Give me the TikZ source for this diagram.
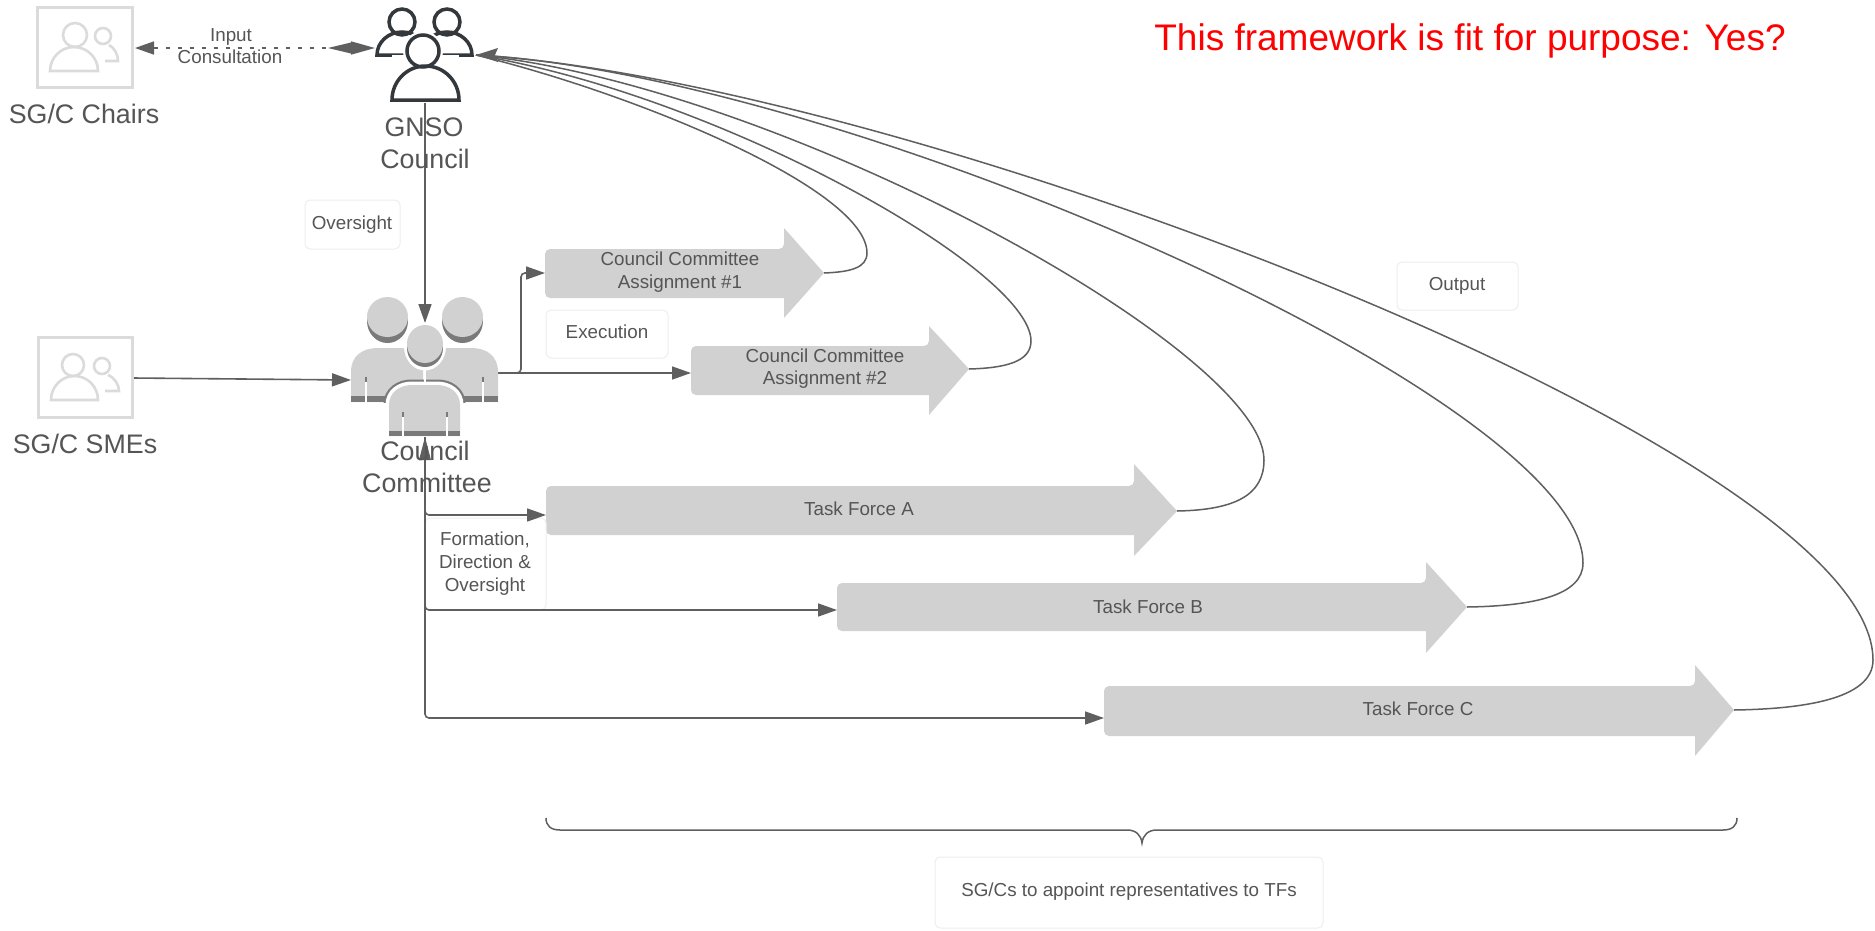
\documentclass[tikz,border=0pt]{standalone}
\usepackage{fontspec}
\setmainfont{Liberation Sans}
\usetikzlibrary{arrows.meta}
\definecolor{tx}{HTML}{555555}
\definecolor{ln}{HTML}{5F5F5F}
\definecolor{bar}{HTML}{D0D1D0}
\definecolor{rim}{HTML}{7A7A7A}
\definecolor{pale}{HTML}{DBDBDB}
\definecolor{dark}{HTML}{33383D}
\definecolor{edge}{HTML}{EEEEEE}
\newcommand{\fsz}[1]{\fontsize{#1}{#1}\selectfont}
% left, top, bottom, base, headtop, headbottom, tipx, tipy, name
\newcommand{\BigArr}[9]{%
  \fill[bar,rounded corners=5] (#1,#8) -- (#1,#2) -- (#4,#2) [sharp corners] -- (#4,#5) -- (#7,#8) -- (#4,#6) -- (#4,#3) [rounded corners=5] -- (#1,#3) -- cycle;
  \coordinate (#9) at (#7,#8);
  \coordinate (#9in) at (#1,#8);
}
% x1 x2 ybase ytop
\newcommand{\Shoulder}[4]{(#1,#3) arc[start angle=180,end angle=360,x radius={(#2-#1)/2},y radius={#3-#4}] -- cycle}
\tikzset{
  every node/.style={text=tx,align=center,inner sep=0pt,font=\fsz{18.8}},
  biglabel/.style={font=\fsz{26.8}},
  notebox/.style={draw=edge,fill=white,rounded corners=5,line width=1pt},
  conn/.style={draw=ln,line width=1.6pt,-{Triangle[length=19pt,width=13pt,fill=ln]},rounded corners=4},
  plainconn/.style={draw=ln,line width=1.6pt,rounded corners=4},
  ret/.style={draw=ln,line width=1.5pt},
  paleicon/.style={draw=pale,line width=2.6pt},
  darkicon/.style={draw=dark,line width=3.5pt,fill=white},
}
\begin{document}
\begin{tikzpicture}[x=1pt,y=-1pt]
\useasboundingbox (0,0) rectangle (1875,930);
\fill[white] (0,0) rectangle (1875,930);

% ---------- named anchors
\coordinate (chairsR) at (135,48);
\coordinate (gnsoL) at (375,48);
\coordinate (gnsoB) at (425,103);
\coordinate (gnsoR) at (476,55);
\coordinate (ccT) at (425,323);
\coordinate (ccB) at (425,437);
\coordinate (ccL) at (351,380);
\coordinate (ccR) at (498,373);
\coordinate (smeR) at (133,378);
\coordinate (ramp) at (521,373);

% ---------- big arrows
\BigArr{545}{249}{298}{784}{228}{318}{824}{273}{aone}
\BigArr{691}{346}{395}{929}{326}{415}{969}{369}{atwo}
\BigArr{546}{486}{535}{1134}{464}{556}{1177}{511}{tfa}
\BigArr{837}{583}{631}{1426}{562}{653}{1467}{607}{tfb}
\BigArr{1104}{686}{736}{1695}{665}{756}{1734}{710}{tfc}

% ---------- return curves to the Council
\draw[ret] (aone) .. controls (850,272) and (867,268) .. (867,253) .. controls (867,190) and (640,95) .. (gnsoR);
\draw[ret] (atwo) .. controls (1005,368) and (1031,362) .. (1031,341) .. controls (1031,270) and (720,95) .. (gnsoR);
\draw[ret] (tfa) .. controls (1235,510) and (1264,495) .. (1264,460) .. controls (1264,350) and (780,85) .. (gnsoR);
\draw[ret] (tfb) .. controls (1535,606) and (1583,595) .. (1583,563) .. controls (1583,400) and (850,75) .. (gnsoR);
\draw[ret] (tfc) .. controls (1800,709) and (1873,700) .. (1873,660) .. controls (1873,450) and (900,80) .. (gnsoR);
\fill[ln] (gnsoR) -- ++(22,-7) -- ++(-3,7) -- ++(3,7) -- cycle;

% ---------- faint box under the Formation text
\node[notebox,minimum width=121pt,minimum height=92pt] (formationBox) at (485.5,564) {};

% ---------- flows
\draw[ln,line width=1.6pt,dash pattern=on 4pt off 8pt,{Triangle[length=19pt,width=13pt]}-{Triangle[length=24pt,width=13pt]}] (chairsR) -- (gnsoL);
\fill[ln] (328,48) -- (353,42) -- (353,54) -- cycle;
\draw[conn] (gnsoB) -- (ccT);
\draw[conn] (smeR) -- (ccL);
\draw[conn] (ccR) -- (ramp) |- (aonein);
\draw[conn] (ccR) -- (atwoin |- ccR);
\draw[plainconn] (ccB) -- (ccB |- tfain);
\draw[conn] (ccB) |- (546,515);
\draw[conn] (ccB) |- (837,610);
\draw[conn] (ccB) |- (1104,718);
\fill[ln] (ccB) -- (419,460) -- (431,460) -- cycle;

% ---------- boxes for SG/C
\node[draw=pale,line width=3pt,minimum width=95pt,minimum height=80pt] (chairs) at (84.5,47.5) {};
\node[draw=pale,line width=3pt,minimum width=94pt,minimum height=80pt] (smes) at (85,377) {};
\begin{scope}[paleicon]
  \draw (75,35) circle[radius=12];
  \draw \Shoulder{50}{98}{71}{47};
  \draw (103,36) circle[radius=8];
  \draw (109,45) .. controls (115,48) and (118,55) .. (118,61) -- (105,61);
  \draw (73,365) circle[radius=11];
  \draw \Shoulder{51}{98}{400}{376};
  \draw (102,366) circle[radius=8];
  \draw (108,375) .. controls (115,378) and (119,385) .. (119,391) -- (105,391);
\end{scope}

% ---------- GNSO Council icon
\begin{scope}[darkicon]
  \draw (402,22) circle[radius=13];
  \draw (447,22) circle[radius=13];
  \draw \Shoulder{377}{427}{55}{32};
  \draw \Shoulder{422}{472}{55}{32};
  \path[fill=white,draw=none] (423,51) circle[radius=20];
  \fill[white,draw=none] (392,55) rectangle (459,100);
  \draw (423,51) circle[radius=16];
  \draw \Shoulder{392}{459}{100}{66};
\end{scope}
\draw[ln,line width=1.6pt] (gnsoB) -- (425,175);

% ---------- Council Committee icon
\fill[rim] (387.5,321) ellipse[x radius=20.5,y radius=22];
\fill[bar] (387.5,317) ellipse[x radius=20.5,y radius=20];
\fill[rim] (462.5,321) ellipse[x radius=20.5,y radius=22];
\fill[bar] (462.5,317) ellipse[x radius=20.5,y radius=20];
\fill[bar] (351,402) -- (351,372) .. controls (351,356) and (362,348) .. (378,348) -- (423,348) -- (423,402) -- cycle;
\fill[bar] (498,402) -- (498,372) .. controls (498,356) and (487,348) .. (471,348) -- (426,348) -- (426,402) -- cycle;
\fill[rim] (351,396) rectangle (498,402);
\begin{scope}
  \clip (351,300) rectangle (498,402);
  \draw[rim,line width=11pt,rounded corners=1] (389,436) -- (389,405) .. controls (389,392) and (400,385) .. (412,385) -- (437,385) .. controls (449,385) and (460,392) .. (460,405) -- (460,436);
\end{scope}
\draw[white,line width=7pt] (389,436) -- (389,405) .. controls (389,392) and (400,385) .. (412,385) -- (437,385) .. controls (449,385) and (460,392) .. (460,405) -- (460,436);
\draw[white,line width=2pt] (424.5,345) -- (424.5,382);
\fill[white] (425,346.5) ellipse[x radius=21,y radius=24];
\fill[rim] (425,348) ellipse[x radius=18,y radius=19];
\fill[bar] (425,344) ellipse[x radius=18,y radius=19];
\fill[bar] (389,436) -- (389,405) .. controls (389,392) and (400,385) .. (412,385) -- (437,385) .. controls (449,385) and (460,392) .. (460,405) -- (460,436) -- cycle;
\fill[rim] (389,431) rectangle (460,436);
\draw[white,line width=1.5pt] (366,380) -- (366,402) (483,380) -- (483,402) (403,415) -- (403,436) (447,415) -- (447,436);
\fill[rim] (365,377) rectangle (367,382);
\fill[rim] (482,377) rectangle (484,382);
\fill[rim] (402,412) rectangle (404,417);
\fill[rim] (446,412) rectangle (448,417);
\draw[ln,line width=1.6pt] (ccB) -- (425,470);

% ---------- note boxes
\node[notebox,minimum width=95pt,minimum height=49pt] (oversight) at (352.5,224.5) {};
\node (oversightT) at (352,225) {Oversight};
\node[notebox,minimum width=122pt,minimum height=48pt] (execution) at (607,334) {};
\node (executionT) at (607,332) {Execution};
\node[notebox,minimum width=121pt,minimum height=48pt] (output) at (1457.5,286) {};
\node (outputT) at (1457,286) {Output};
\node[notebox,minimum width=388pt,minimum height=71pt] (appoint) at (1129,892.5) {};
\node (appointT) at (1129,892) {SG/Cs to appoint representatives to TFs};
\node (formation) at (485,562) {\begin{tabular}{@{}c@{}}\\[-14pt]Formation,\\[3.5pt]Direction \&\\[3.5pt]Oversight\end{tabular}};

% ---------- texts
\node[biglabel] (chairsT) at (84,114) {SG/C Chairs};
\node[biglabel] (smesT) at (85,444) {SG/C SMEs};
\node[biglabel] (gnsoT) at (424,127) {GNSO};
\node[biglabel] (gnsoT2) at (425,159) {Council};
\node[biglabel] (ccT1) at (425,451) {Council};
\node[biglabel] (ccT2) at (427,483) {Committee};
\node (inputT) at (231,37) {Input};
\node (consT) at (230,57) {Consultation};
\node (aoneT) at (680,259) {Council Committee};
\node (aoneT2) at (680,284) {Assignment \#1};
\node (atwoT) at (825,356) {Council Committee};
\node (atwoT2) at (825,380) {Assignment \#2};
\node (tfaT) at (859,509) {Task Force A};
\node (tfbT) at (1148,607) {Task Force B};
\node (tfcT) at (1418,709) {Task Force C};
\node[text=red,font=\fsz{37}] (fit) at (1470,41) {This framework is fit for purpose: Yes?};

% ---------- brace
\coordinate (braceL) at (546,818);
\coordinate (braceR) at (1737,818);
\coordinate (braceTip) at (1142,843);
\draw[ln,line width=1.5pt] (braceL) .. controls (546,826) and (551,830) .. (560,830) -- (1127,830) .. controls (1136,830) and (1141,835) .. (braceTip) .. controls (1143,835) and (1148,830) .. (1157,830) -- (1723,830) .. controls (1732,830) and (1737,826) .. (braceR);
\end{tikzpicture}
\end{document}
